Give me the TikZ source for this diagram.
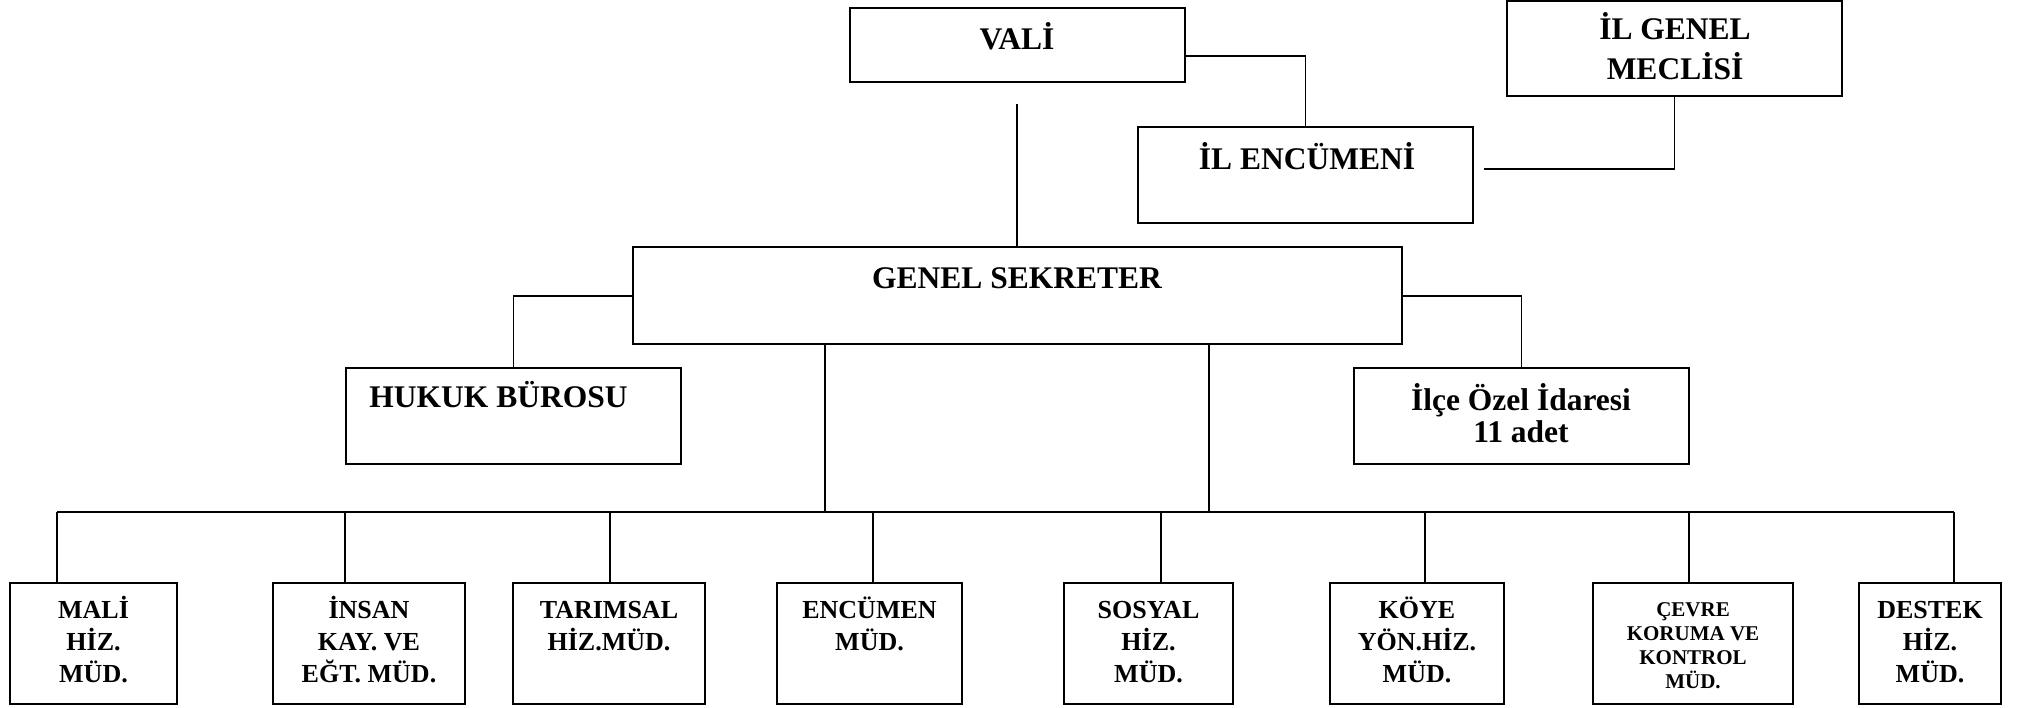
\documentclass[tikz,border=0pt]{standalone}
\usepackage{fontspec}
\setmainfont{Liberation Serif}
\usetikzlibrary{fit}
\begin{document}
\begin{tikzpicture}[x=0.5pt,y=-0.5pt,
  box/.style={draw, line width=1pt, inner sep=0pt},
  conn/.style={line width=0.85pt},
  bigtxt/.style={font=\fontsize{15.75}{20}\selectfont\bfseries, inner sep=0pt, align=center, anchor=base},
  smalltxt/.style={font=\fontsize{13}{16}\selectfont\bfseries, inner sep=0pt, align=center, anchor=base},
  tinytxt/.style={font=\fontsize{10.5}{12}\selectfont\bfseries, inner sep=0pt, align=center, anchor=base}]
\useasboundingbox (0,0) rectangle (2037,707);
% top boxes
\node[box, fit={(850,8) (1185,82)}] (vali) {};
\node[box, fit={(1507,1) (1842,96)}] (mec) {};
\node[box, fit={(1138,127) (1473,223)}] (enc) {};
\node[box, fit={(633,247) (1402,344)}] (gs) {};
\node[box, fit={(346,368) (681,464)}] (huk) {};
\node[box, fit={(1354,368) (1689,464)}] (ilce) {};
% bottom boxes
\node[box, fit={(10,583) (177,704)}] (m1) {};
\node[box, fit={(273,583) (465,704)}] (m2) {};
\node[box, fit={(513,583) (705,704)}] (m3) {};
\node[box, fit={(777,583) (962,704)}] (m4) {};
\node[box, fit={(1064,583) (1233,704)}] (m5) {};
\node[box, fit={(1330,583) (1504,704)}] (m6) {};
\node[box, fit={(1593,583) (1793,704)}] (m7) {};
\node[box, fit={(1859,583) (2001,704)}] (m8) {};
% texts (anchor=base = baseline of the last line)
\node[bigtxt] (valit) at (1017,49) {VALİ};
\node[bigtxt] (mect) at (1675,79) {İL GENEL\\MECLİSİ};
\node[bigtxt] (enct) at (1307,169) {İL ENCÜMENİ};
\node[bigtxt] (gst) at (1017,288) {GENEL SEKRETER};
\node[bigtxt, anchor=base west] (hukt) at (369,407) {HUKUK BÜROSU};
\node[bigtxt, font=\fontsize{15.75}{16}\selectfont\bfseries] (ilcet) at (1521,442) {İlçe Özel İdaresi\\11 adet};
\node[smalltxt] (t1) at (m1.center |- 0,682) {MALİ\\HİZ.\\MÜD.};
\node[smalltxt] (t2) at (m2.center |- 0,682) {İNSAN\\KAY. VE\\EĞT. MÜD.};
\node[smalltxt] (t3) at (m3.center |- 0,650) {TARIMSAL\\HİZ.MÜD.};
\node[smalltxt] (t4) at (m4.center |- 0,650) {ENCÜMEN\\MÜD.};
\node[smalltxt] (t5) at (m5.center |- 0,682) {SOSYAL\\HİZ.\\MÜD.};
\node[smalltxt] (t6) at (m6.center |- 0,682) {KÖYE\\YÖN.HİZ.\\MÜD.};
\node[tinytxt] (t7) at (m7.center |- 0,688) {ÇEVRE\\KORUMA VE\\KONTROL\\MÜD.};
\node[smalltxt] (t8) at (m8.center |- 0,682) {DESTEK\\HİZ.\\MÜD.};
% connectors
\draw[conn] (vali.east |- 0,56) -| (enc.north);
\coordinate (encR) at (1484,169);
\draw[conn] (encR) -| (mec.south);
\coordinate (vtop) at (1017,104);
\draw[conn] (vtop) -- (vtop |- gs.north);
\draw[conn] (gs.west |- 0,296) -| (huk.north);
\draw[conn] (gs.east |- 0,296) -| (ilce.north);
\coordinate (j1) at (825,512);
\coordinate (j2) at (1209,512);
\draw[conn] (j1 |- gs.south) -- (j1);
\draw[conn] (j2 |- gs.south) -- (j2);
\coordinate (d1) at (57,512);
\coordinate (d2) at (345,512);
\coordinate (d3) at (610,512);
\coordinate (d4) at (873,512);
\coordinate (d5) at (1161,512);
\coordinate (d6) at (1425,512);
\coordinate (d7) at (1689,512);
\coordinate (d8) at (1954,512);
\draw[conn] (d1) -- (d8);
\foreach \i in {1,...,8} {\draw[conn] (d\i) -- (d\i |- m\i.north);}
\end{tikzpicture}
\end{document}
